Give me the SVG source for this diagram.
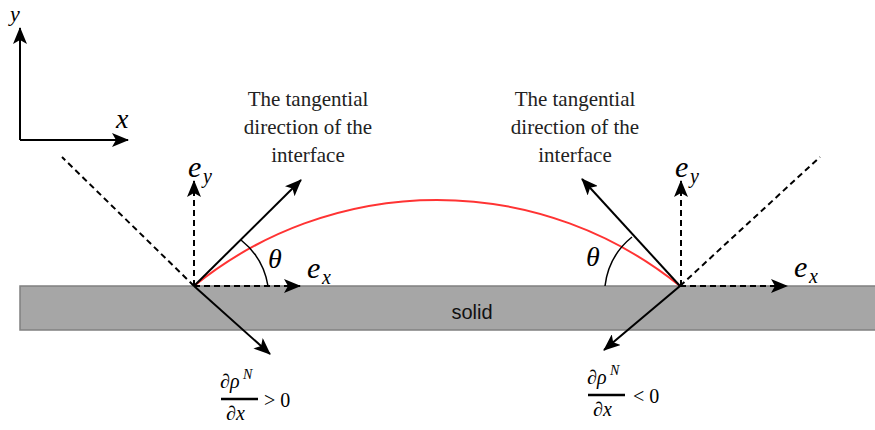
<svg xmlns="http://www.w3.org/2000/svg" width="875" height="430" viewBox="0 0 875 430">
<style>
.ln{stroke:#000;stroke-width:2;fill:none}
.ds{stroke:#000;stroke-width:2;fill:none;stroke-dasharray:6 4}
.th{stroke:#000;stroke-width:1.5;fill:none}
.lbl{font-size:21px;fill:#222;text-anchor:middle}
.math{font-style:italic;fill:#000}
.mth{fill:#000}
</style>
<defs>
<marker id="ah" markerUnits="userSpaceOnUse" markerWidth="18" markerHeight="14" refX="16" refY="7" orient="auto">
<path d="M0,0 L17,7 L0,14 L4,7 z" fill="#000"/>
</marker>
</defs>
<g id="solid">
<rect x="20" y="286" width="870" height="44" fill="#a6a6a6" stroke="#808080" stroke-width="1.5"/>
<text x="472" y="319" font-family="'Liberation Sans', Arial, sans-serif" font-size="20" text-anchor="middle" fill="#111">solid</text>
</g>
<g id="axes" font-family="'Liberation Serif', 'Times New Roman', serif">
<line class="ln" x1="20" y1="140" x2="20" y2="28" marker-end="url(#ah)"/>
<line class="ln" x1="20" y1="140" x2="128" y2="140" marker-end="url(#ah)"/>
<text class="math" x="10" y="21" font-size="22">y</text>
<text class="math" x="116" y="128" font-size="28">x</text>
</g>
<g id="droplet">
<path d="M194 286 A386 386 0 0 1 680 286" fill="none" stroke="#ff3333" stroke-width="2"/>
</g>
<g id="connectors">
<line class="ds" x1="194" y1="286" x2="62" y2="157"/>
<line class="ds" x1="194" y1="286" x2="194" y2="181" marker-end="url(#ah)"/>
<line class="ds" x1="194" y1="286" x2="300" y2="286" marker-end="url(#ah)"/>
<line class="ln" x1="194" y1="286" x2="301" y2="180" marker-end="url(#ah)"/>
<line class="ln" x1="194" y1="286" x2="270" y2="354" marker-end="url(#ah)"/>
<path class="th" d="M268 286 A74 74 0 0 0 241 240"/>
<line class="ds" x1="680" y1="286" x2="820" y2="157"/>
<line class="ds" x1="681" y1="286" x2="681" y2="181" marker-end="url(#ah)"/>
<line class="ds" x1="680" y1="286" x2="787" y2="286" marker-end="url(#ah)"/>
<line class="ln" x1="680" y1="286" x2="582" y2="179" marker-end="url(#ah)"/>
<line class="ln" x1="680" y1="286" x2="604" y2="350" marker-end="url(#ah)"/>
<path class="th" d="M605 286 A74 74 0 0 1 632 237"/>
</g>
<g id="left-labels" font-family="'Liberation Serif', 'Times New Roman', serif">
<text class="math" x="188" y="177" font-size="30">e</text>
<text class="math" x="203" y="183" font-size="20">y</text>
<text class="math" x="307" y="278" font-size="30">e</text>
<text class="math" x="322" y="284" font-size="20">x</text>
<text class="math" x="268" y="268" font-size="28">θ</text>
<text class="lbl" x="308" y="106">The tangential</text>
<text class="lbl" x="308" y="134">direction of the</text>
<text class="lbl" x="308" y="162">interface</text>
</g>
<g id="right-labels" font-family="'Liberation Serif', 'Times New Roman', serif">
<text class="math" x="675" y="177" font-size="30">e</text>
<text class="math" x="690" y="183" font-size="20">y</text>
<text class="math" x="794" y="277" font-size="30">e</text>
<text class="math" x="809" y="283" font-size="20">x</text>
<text class="math" x="586" y="266" font-size="28">θ</text>
<text class="lbl" x="575" y="106">The tangential</text>
<text class="lbl" x="575" y="134">direction of the</text>
<text class="lbl" x="575" y="162">interface</text>
</g>
<g id="frac-left" font-family="'Liberation Serif', 'Times New Roman', serif">
<text class="math" x="220" y="388" font-size="20">∂ρ</text>
<text class="math" x="243" y="379" font-size="14">N</text>
<line x1="221" y1="399" x2="258" y2="399" stroke="#000" stroke-width="2.5"/>
<text class="math" x="226" y="420" font-size="20">∂x</text>
<text class="mth" x="264" y="407" font-size="20">&gt; 0</text>
</g>
<g id="frac-right" font-family="'Liberation Serif', 'Times New Roman', serif">
<text class="math" x="587" y="384" font-size="20">∂ρ</text>
<text class="math" x="610" y="375" font-size="14">N</text>
<line x1="588" y1="395" x2="625" y2="395" stroke="#000" stroke-width="2.5"/>
<text class="math" x="593" y="416" font-size="20">∂x</text>
<text class="mth" x="633" y="403" font-size="20">&lt; 0</text>
</g>
</svg>
